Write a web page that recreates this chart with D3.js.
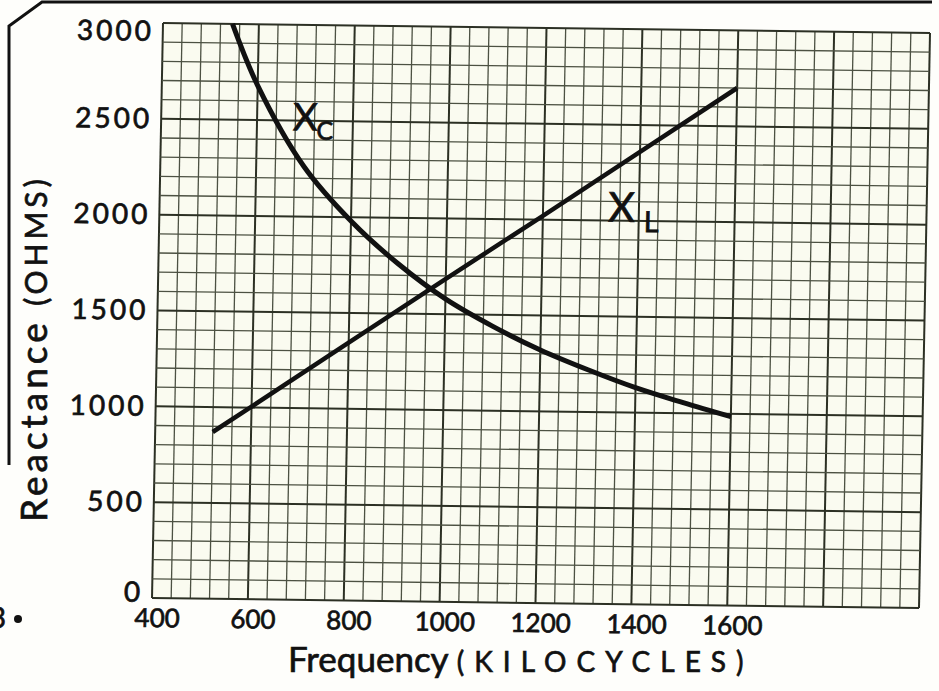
<!DOCTYPE html>
<html>
<head>
<meta charset="utf-8">
<style>
  body { margin: 0; background: #fefefb; }
  svg text { font-family: Lato, "Open Sans", sans-serif; fill: #111; stroke: #111; stroke-width: 0.7px; }
  .tick text { font-family: Lato, sans-serif; fill: #111; }
</style>
</head>
<body>
<svg id="chart" width="939" height="691"></svg>
<script src="https://d3js.org/d3.v7.min.js"></script>
<script>
// tick labels
var freqTicks = [400, 600, 800, 1000, 1200, 1400, 1600];
var ohmTicks = [0, 500, 1000, 1500, 2000, 2500, 3000];

// inductive reactance X_L (straight line)
var xlFreq = [520, 600, 800, 1000, 1200, 1400, 1600];
var xlOhms = [870, 1005, 1345, 1685, 2020, 2360, 2700];

// capacitive reactance X_C (curve)
var xcFreq = [545, 600, 700, 800, 900, 1000, 1100, 1200, 1300, 1400, 1500, 1600];
var xcOhms = [3000, 2680, 2260, 1980, 1760, 1580, 1440, 1320, 1220, 1130, 1055, 985];

var W = 767, H = 575;
var svg = d3.select('#chart');

var x = d3.scaleLinear().domain([400, 2000]).range([0, W]);
var y = d3.scaleLinear().domain([0, 3000]).range([H, 0]);

// page frame (rounded corner of the printed page)
svg.append('path')
  .attr('d', 'M932,2 L42,2 L9,26 L9,465')
  .attr('fill', 'none')
  .attr('stroke', '#111')
  .attr('stroke-width', 3);

// scanned sheet is a bit skewed, so the plot group gets a small shear
var g = svg.append('g')
  .attr('transform', 'matrix(1,' + (10 / W) + ',' + (-11 / H) + ',1,163,23)');

g.append('rect')
  .attr('width', W).attr('height', H)
  .attr('fill', '#fafbf0');

// graph paper
var vLines = d3.range(400, 2001, 40);
var hLines = d3.range(0, 3001, 100);

g.selectAll('.vgrid').data(vLines).enter().append('line')
  .attr('class', 'vgrid')
  .attr('x1', function(d){ return x(d); }).attr('x2', function(d){ return x(d); })
  .attr('y1', 0).attr('y2', H)
  .attr('stroke', function(d){ return (d - 400) % 200 === 0 ? '#2c3024' : '#4c5142'; })
  .attr('stroke-width', function(d){ return (d - 400) % 200 === 0 ? 2 : 1.3; });

g.selectAll('.hgrid').data(hLines).enter().append('line')
  .attr('class', 'hgrid')
  .attr('y1', function(d){ return y(d); }).attr('y2', function(d){ return y(d); })
  .attr('x1', 0).attr('x2', W)
  .attr('stroke', function(d){ return d % 500 === 0 ? '#2c3024' : '#4c5142'; })
  .attr('stroke-width', function(d){ return d % 500 === 0 ? 2 : 1.3; });

// axes (labels only, the paper is the grid)
var xAxis = g.append('g')
  .attr('transform', 'translate(0,' + H + ')')
  .call(d3.axisBottom(x).tickValues(freqTicks).tickSize(0).tickPadding(7).tickFormat(d3.format('d')));
xAxis.select('.domain').remove();
xAxis.selectAll('text')
  .attr('font-size', 26)
  .attr('dx', 5)
  .attr('dy', '0.85em');

var yAxis = g.append('g')
  .call(d3.axisLeft(y).tickValues(ohmTicks).tickSize(0).tickPadding(9).tickFormat(d3.format('d')));
yAxis.select('.domain').remove();
// top label sits a little below its line, the zero a little above
yAxis.selectAll('text')
  .attr('font-size', 28)
  .attr('letter-spacing', 3)
  .attr('dy', function(d){ return d === 3000 ? '0.62em' : (d === 0 ? '0.12em' : '0.32em'); });

// curves
var line = d3.line()
  .x(function(d){ return x(d[0]); })
  .y(function(d){ return y(d[1]); });

g.append('path')
  .datum(d3.zip(xlFreq, xlOhms))
  .attr('d', line)
  .attr('fill', 'none')
  .attr('stroke', '#111')
  .attr('stroke-width', 4.5);

g.append('path')
  .datum(d3.zip(xcFreq, xcOhms))
  .attr('d', line.curve(d3.curveCatmullRom.alpha(0.5)))
  .attr('fill', 'none')
  .attr('stroke', '#111')
  .attr('stroke-width', 5);

// curve names
var xcLabel = g.append('text')
  .attr('x', x(675)).attr('y', y(2450))
  .attr('font-size', 38)
  .text('X');
xcLabel.append('tspan').attr('font-size', 25).attr('dy', 9).attr('dx', -1).text('C');

var xlLabel = g.append('text')
  .attr('x', x(1336)).attr('y', y(1995))
  .attr('font-size', 41)
  .text('X');
xlLabel.append('tspan').attr('font-size', 29).attr('dy', 10).attr('dx', 9).text('L');

// axis titles
var xt = svg.append('text')
  .attr('x', 288).attr('y', 672)
  .attr('font-size', 35)
  .text('Frequency ');
xt.append('tspan').attr('font-size', 28).attr('letter-spacing', 10).text('(KILOCYCLES)');

var yt = svg.append('text')
  .attr('transform', 'translate(47,522) rotate(-90)')
  .attr('font-size', 37)
  .attr('letter-spacing', 4)
  .text('Reactance ');
yt.append('tspan').attr('font-size', 30).attr('letter-spacing', 4).text('(OHMS)');

// leftover of the figure number at the page edge
svg.append('text').attr('x', 6).attr('y', 628).attr('text-anchor', 'end')
  .attr('font-size', 28).text('3');
svg.append('circle').attr('cx', 18).attr('cy', 619).attr('r', 4).attr('fill', '#111');
</script>
</body>
</html>
